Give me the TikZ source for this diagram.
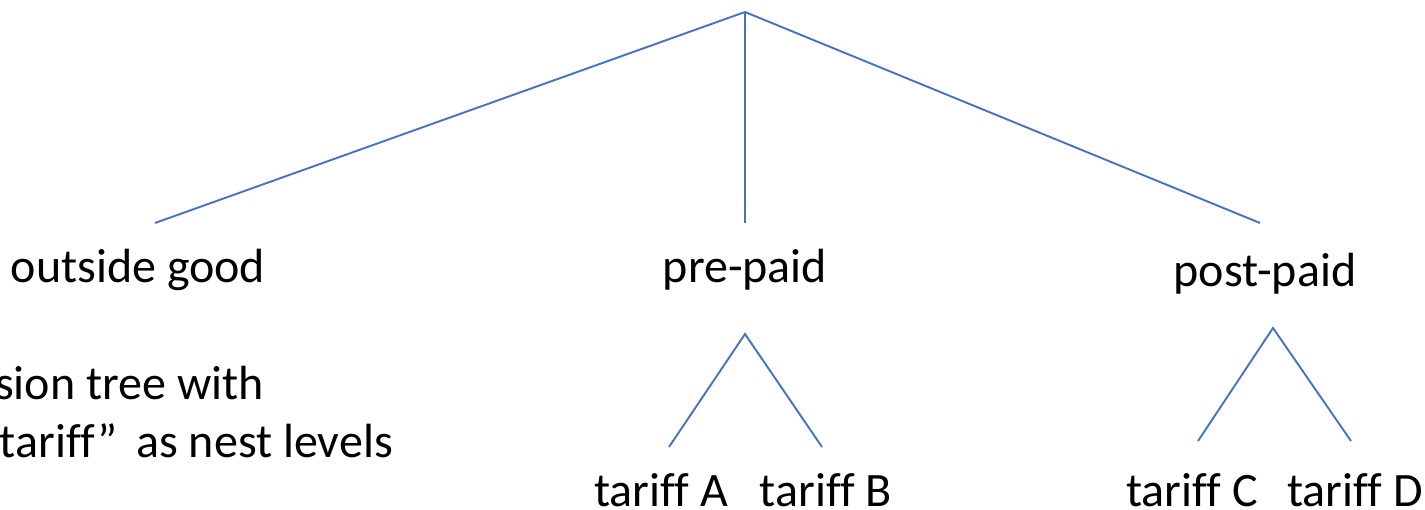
\documentclass[tikz,border=0pt]{standalone}
\usepackage{fontspec}
\setmainfont{Carlito}[Ligatures=NoCommon]
\definecolor{branch}{HTML}{4472C4}
\begin{document}
\begin{tikzpicture}[x=1pt,y=-1pt,
  edge/.style={draw=branch,line width=1.9pt},
  lbl/.style={font=\fontsize{48}{58}\selectfont,inner sep=0pt,anchor=base}]
\useasboundingbox (0,0) rectangle (1425,510);
\clip (0,0) rectangle (1425,510);

% branching points
\coordinate (root) at (745,12);
\coordinate (outEnd) at (155,223);
\coordinate (preEnd) at (745,223);
\coordinate (postEnd) at (1260,223);
\coordinate (preTop) at (745,334);
\coordinate (preA) at (669,447);
\coordinate (preB) at (822,447);
\coordinate (postTop) at (1273,328);
\coordinate (postC) at (1198,441);
\coordinate (postD) at (1351,441);

% labels
\node[lbl] (outside) at (138,283) {outside good};
\node[lbl] (prepaid) at (745,283) {pre-paid};
\node[lbl] (postpaid) at (1265,287) {post-paid};
\node[lbl] (tA) at (661,506) {tariff A};
\node[lbl] (tB) at (826,506) {tariff B};
\node[lbl] (tC) at (1192,506) {tariff C};
\node[lbl] (tD) at (1355,506) {tariff D};
\node[lbl,anchor=base east] (note1) at (264,400) {sion tree with};
\node[lbl,anchor=base east] (note2) at (393,458) {“tariff”\, as nest levels};

% top level
\draw[edge] (root) -- (outEnd);
\draw[edge] (root) -- (preEnd);
\draw[edge] (root) -- (postEnd);
% nests
\draw[edge] (preA) -- (preTop) -- (preB);
\draw[edge] (postC) -- (postTop) -- (postD);
\end{tikzpicture}
\end{document}
